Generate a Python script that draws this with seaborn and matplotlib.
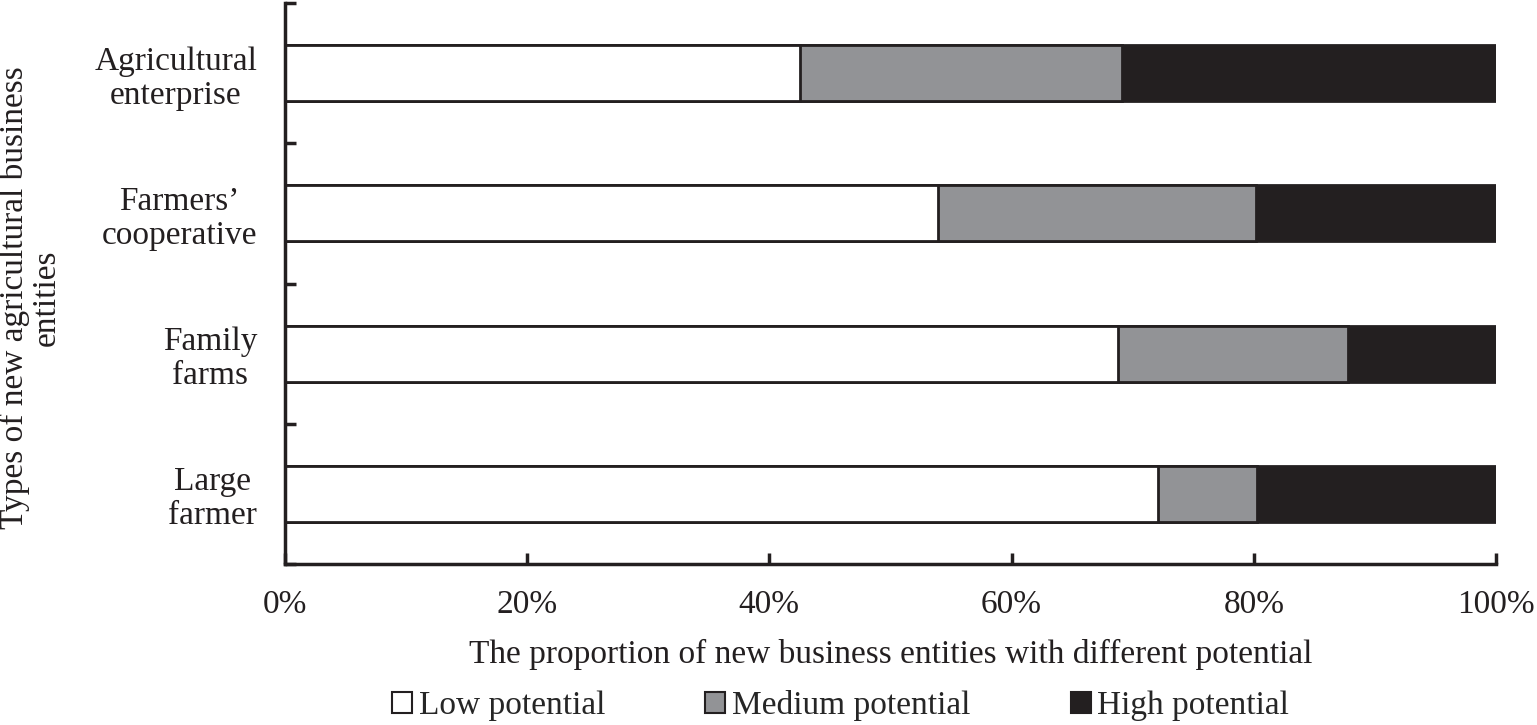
import matplotlib
matplotlib.use("Agg")
import matplotlib.pyplot as plt
import seaborn as sns
import pandas as pd
import numpy as np
from matplotlib.patches import Patch

categories = ["Agricultural\nenterprise", "Farmers’\ncooperative", "Family\nfarms", "Large\nfarmer"]
low = [42.5, 53.9, 68.8, 72.1]
medium = [26.6, 26.3, 19.0, 8.2]
high = [30.9, 19.8, 12.2, 19.7]
series_names = ["Low potential", "Medium potential", "High potential"]
colors = ["#ffffff", "#929396", "#231f20"]

sns.set_theme(style="white")
plt.rcParams['font.family'] = ['Liberation Serif', 'DejaVu Serif']

df = pd.DataFrame({"cat": categories, "low": low, "medium": medium, "high": high})
df["c1"] = df["low"]
df["c2"] = df["low"] + df["medium"]
df["c3"] = df["low"] + df["medium"] + df["high"]

fig = plt.figure(figsize=(15.37, 7.25), dpi=100)
ax = fig.add_axes([0.1854, 0.222, 0.7879, 0.7739])

for col, colr in zip(["c3", "c2", "c1"], colors[::-1]):
    sns.barplot(data=df, y="cat", x=col, orient="h", color=colr, width=0.4,
                edgecolor="#231f20", linewidth=2, saturation=1, ax=ax, order=categories)

ax.set_xlim(0, 100)
ax.set_ylim(3.5, -0.5)
ax.set_xticks(np.arange(0, 101, 20))
ax.set_xticklabels([f"{v}%" for v in range(0, 101, 20)], fontsize=24)
ax.set_yticks(range(len(categories)))
ax.set_yticklabels(categories, fontsize=24, multialignment="center", linespacing=1.15)
ax.set_yticks(np.arange(-0.5, 4, 1), minor=True)
ax.tick_params(axis="y", which="major", left=True, length=0, pad=20)
ax.tick_params(axis="y", which="minor", left=True, length=8, width=2.5, direction="in", color="#231f20")
ax.tick_params(axis="x", which="major", bottom=True, length=8, width=2.5, direction="in", color="#231f20", pad=18)
ax.tick_params(labelcolor="#231f20", which="both")
for s in ["top", "right"]:
    ax.spines[s].set_visible(False)
for s in ["left", "bottom"]:
    ax.spines[s].set_linewidth(2.5)
    ax.spines[s].set_color("#231f20")
ax.set_ylabel("")
ax.set_xlabel("The proportion of new business entities with different potential", fontsize=24, labelpad=14, color="#231f20")

fig.text(0.0195, 0.59, "Types of new agricultural business\nentities", rotation=90, ha="center", va="center",
         fontsize=24, multialignment="center", color="#231f20", linespacing=1.05)

handles = [Patch(facecolor=c, edgecolor="#231f20", linewidth=1.5) for c in colors]
fig.legend(handles, series_names, loc="center", bbox_to_anchor=(0.547, 0.027), ncol=3, frameon=False,
           fontsize=24, handlelength=0.6, handleheight=0.6, handletextpad=0.2, columnspacing=3.0)

fig.savefig("out.png", dpi=100)
